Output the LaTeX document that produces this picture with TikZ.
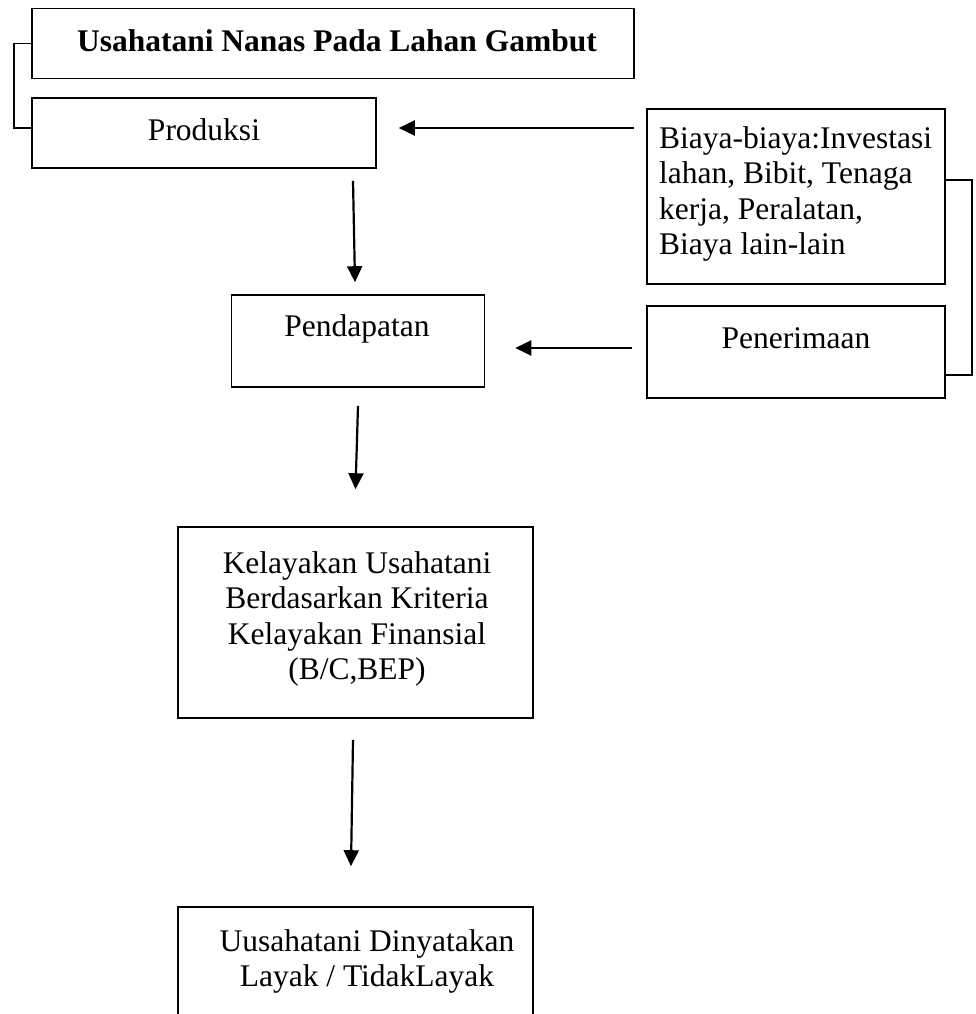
\documentclass[tikz,border=0pt]{standalone}
\usepackage{fontspec}
\setmainfont{Liberation Serif}
\usetikzlibrary{arrows.meta}
\newcommand\fs{\fontsize{31.5}{35.5}\selectfont}
\tikzset{
  box/.style={draw, line width=1.6pt, inner sep=0pt},
  arr/.style={line width=2.2pt, -{Triangle[length=16pt,width=15pt]}},
  brk/.style={line width=1.5pt},
  txt/.style={font=\fs, inner sep=0pt, align=center},
}
\begin{document}
\begin{tikzpicture}[x=1pt,y=-1pt]
\clip (0,0) rectangle (975,1014);
\fill[white] (0,0) rectangle (975,1014);
% boxes
\node[box, minimum width=602pt, minimum height=70pt] (top) at (333,43.5) {};
\node[box, minimum width=344pt, minimum height=70pt] (prod) at (204,133) {};
\node[box, minimum width=298pt, minimum height=175pt] (biaya) at (796,196.5) {};
\node[box, minimum width=298pt, minimum height=92pt] (pener) at (796,352) {};
\node[box, minimum width=253pt, minimum height=92pt] (pend) at (358,341) {};
\node[box, minimum width=355pt, minimum height=191pt] (kel) at (355.5,622.5) {};
\node[box, minimum width=355pt, minimum height=140pt] (final) at (355.5,977) {};
% texts
\node[txt, anchor=base, font=\fs\bfseries] (ttop) at (337,52) {Usahatani Nanas Pada Lahan Gambut};
\node[txt, anchor=base] (tprod) at (204,140) {Produksi};
\node[txt, anchor=north west, align=left] (tbiaya) at (659,126) {Biaya-biaya:Investasi\\lahan, Bibit, Tenaga\\kerja, Peralatan,\\Biaya lain-lain};
\node[txt, anchor=base] (tpener) at (796,348) {Penerimaan};
\node[txt, anchor=base] (tpend) at (357,336) {Pendapatan};
\node[txt, anchor=north] (tkel) at (357,551) {Kelayakan Usahatani\\Berdasarkan Kriteria\\Kelayakan Finansial\\(B/C,BEP)};
\node[txt, anchor=north] (tfinal) at (367,929) {Uusahatani Dinyatakan\\Layak / TidakLayak};
% brackets
\draw[brk] (top.west) -| (14,80) |- ([yshift=5pt]prod.west);
\draw[brk] ([yshift=16.5pt]biaya.east) -| (972,300) |- ([yshift=-23pt]pener.east);
% arrows
\draw[arr] ([xshift=-12pt,yshift=68.5pt]biaya.west) -- ([xshift=22pt,yshift=5pt]prod.east);
\draw[arr] ([xshift=-14pt,yshift=4pt]pener.west) -- ([xshift=30pt,yshift=-7pt]pend.east);
\draw[arr] ([xshift=149pt,yshift=-12pt]prod.south) -- ([xshift=-3pt,yshift=12pt]pend.north);
\draw[arr] ([yshift=-18pt]pend.south) -- ([xshift=0pt,yshift=37pt]kel.north);
\draw[arr] ([xshift=-2.5pt,yshift=-21pt]kel.south) -- ([xshift=-4.5pt,yshift=40pt]final.north);
\end{tikzpicture}
\end{document}
